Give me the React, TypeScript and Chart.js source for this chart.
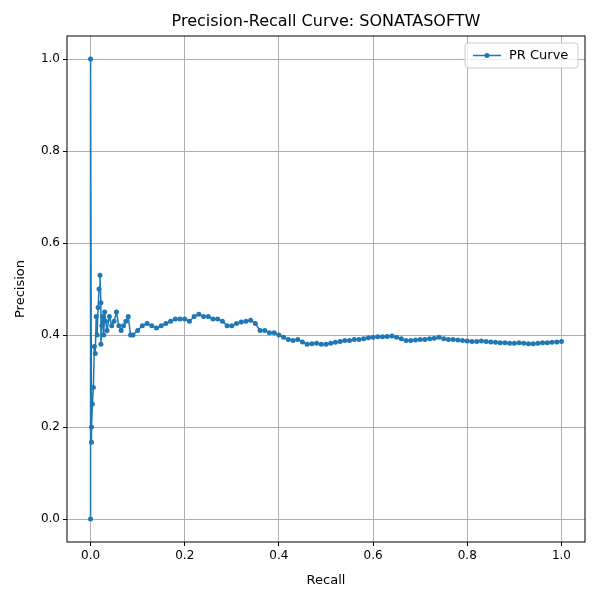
import { useEffect, useRef } from "react";
import Chart from "chart.js/auto";

const recall = [
  0, 0, 0.002, 0.002, 0.004, 0.006, 0.008, 0.01, 0.012, 0.014, 0.016, 0.018, 0.02, 0.022, 0.022, 0.024,
  0.026, 0.028, 0.03, 0.032, 0.035, 0.04, 0.045, 0.05, 0.055, 0.06, 0.065, 0.07, 0.075, 0.08, 0.085,
  0.09, 0.1, 0.11, 0.12, 0.13, 0.14, 0.15, 0.16, 0.17, 0.18, 0.19, 0.2, 0.21, 0.22, 0.23, 0.24, 0.25,
  0.26, 0.27, 0.28, 0.29, 0.3, 0.31, 0.32, 0.33, 0.34, 0.35, 0.36, 0.37, 0.38, 0.39, 0.4, 0.41, 0.42,
  0.43, 0.44, 0.45, 0.46, 0.47, 0.48, 0.49, 0.5, 0.51, 0.52, 0.53, 0.54, 0.55, 0.56, 0.57, 0.58, 0.59,
  0.6, 0.61, 0.62, 0.63, 0.64, 0.65, 0.66, 0.67, 0.68, 0.69, 0.7, 0.71, 0.72, 0.73, 0.74, 0.75, 0.76,
  0.77, 0.78, 0.79, 0.8, 0.81, 0.82, 0.83, 0.84, 0.85, 0.86, 0.87, 0.88, 0.89, 0.9, 0.91, 0.92, 0.93,
  0.94, 0.95, 0.96, 0.97, 0.98, 0.99, 1.0,
];
const precision = [
  0, 1.0, 0.167, 0.2, 0.25, 0.286, 0.375, 0.36, 0.44, 0.4, 0.46, 0.5, 0.53, 0.47, 0.38, 0.42,
  0.44, 0.4, 0.45, 0.43, 0.41, 0.44, 0.42, 0.43, 0.45, 0.42, 0.41, 0.42, 0.43, 0.44, 0.4,
  0.4, 0.41, 0.42, 0.425, 0.42, 0.415, 0.42, 0.425, 0.43, 0.435, 0.435, 0.435, 0.43, 0.44, 0.445, 0.44, 0.44,
  0.435, 0.435, 0.43, 0.42, 0.42, 0.425, 0.428, 0.43, 0.432, 0.425, 0.41, 0.41, 0.405, 0.405, 0.4, 0.395, 0.39,
  0.388, 0.39, 0.385, 0.38, 0.381, 0.382, 0.38, 0.38, 0.382, 0.384, 0.386, 0.388, 0.388, 0.39, 0.39, 0.392, 0.394,
  0.395, 0.396, 0.396, 0.397, 0.398, 0.395, 0.392, 0.388, 0.388, 0.389, 0.39, 0.39, 0.392, 0.393, 0.395, 0.392, 0.39,
  0.39, 0.389, 0.388, 0.387, 0.386, 0.386, 0.387, 0.386, 0.385, 0.384, 0.383, 0.383, 0.382, 0.382, 0.383, 0.382, 0.381,
  0.381, 0.382, 0.383, 0.383, 0.384, 0.385, 0.386,
];
const tickValues = [0, 0.2, 0.4, 0.6, 0.8, 1.0];

const BLUE = "#1f77b4";
const FONT = "'DejaVu Sans', sans-serif";

const App = () => {
  const ref = useRef<HTMLCanvasElement>(null);

  useEffect(() => {
    document.body.style.margin = "0";
    if (!ref.current) return;

    const deco = {
      id: "deco",
      afterDraw(chart: any) {
        const { ctx, chartArea: a } = chart;
        ctx.save();
        ctx.strokeStyle = "#000";
        ctx.lineWidth = 1;
        ctx.strokeRect(a.left, a.top, a.right - a.left, a.bottom - a.top);
        ctx.fillStyle = "#000";
        ctx.font = `16px ${FONT}`;
        ctx.textAlign = "center";
        ctx.textBaseline = "middle";
        ctx.fillText("Precision-Recall Curve: SONATASOFTW", (a.left + a.right) / 2, 22);
        // legend
        const lx = a.right - 120, ly = a.top + 7;
        ctx.fillStyle = "rgba(255,255,255,0.8)";
        ctx.strokeStyle = "#cccccc";
        ctx.beginPath();
        ctx.roundRect(lx, ly, 113, 25, 3);
        ctx.fill();
        ctx.stroke();
        ctx.strokeStyle = BLUE;
        ctx.lineWidth = 1.5;
        ctx.beginPath();
        ctx.moveTo(lx + 8, ly + 12.5);
        ctx.lineTo(lx + 36, ly + 12.5);
        ctx.stroke();
        ctx.fillStyle = BLUE;
        ctx.beginPath();
        ctx.arc(lx + 22, ly + 12.5, 2.5, 0, Math.PI * 2);
        ctx.fill();
        ctx.fillStyle = "#000";
        ctx.font = `13px ${FONT}`;
        ctx.textAlign = "left";
        ctx.fillText("PR Curve", lx + 44, ly + 13);
        ctx.restore();
      },
    };

    const axis = (title: string, isY: boolean) => ({
      type: "linear" as const,
      min: -0.05,
      max: 1.05,
      afterBuildTicks: (s: any) => {
        s.ticks = tickValues.map((v) => ({ value: v }));
      },
      afterFit: (s: any) => {
        if (isY) s.width = 67;
        else s.height = 58;
      },
      border: { display: false },
      grid: { color: "#b0b0b0", tickColor: "#000", tickLength: 4 },
      ticks: {
        color: "#000",
        font: { family: FONT, size: 12 },
        callback: (v: any) => Number(v).toFixed(1),
        maxRotation: 0,
        padding: 3,
      },
      title: {
        display: true,
        text: title,
        color: "#000",
        font: { family: FONT, size: 13 },
        padding: isY ? { top: 13, bottom: 13 } : { top: 12, bottom: 12 },
      },
    });

    const chart = new Chart(ref.current, {
      type: "line",
      data: {
        datasets: [
          {
            label: "PR Curve",
            data: recall.map((r, i) => ({ x: r, y: precision[i] })),
            borderColor: BLUE,
            backgroundColor: BLUE,
            borderWidth: 1.5,
            pointRadius: 2.5,
            pointBorderWidth: 0,
            tension: 0,
          },
        ],
      },
      options: {
        responsive: false,
        animation: false,
        layout: { padding: { top: 36, right: 15, left: 0, bottom: 0 } },
        plugins: { legend: { display: false }, tooltip: { enabled: false } },
        scales: { x: axis("Recall", false), y: axis("Precision", true) },
      },
      plugins: [deco],
    });

    return () => chart.destroy();
  }, []);

  return <canvas ref={ref} width={600} height={600} />;
};

export default App;
